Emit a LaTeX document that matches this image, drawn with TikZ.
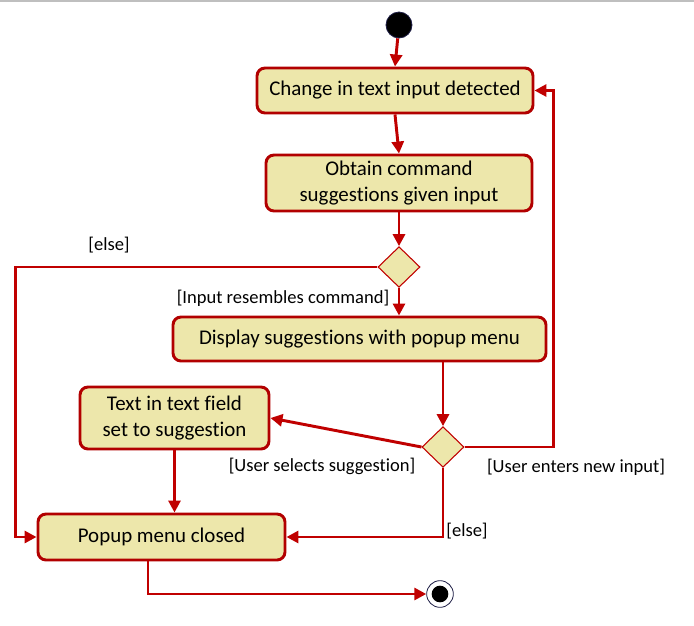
\documentclass[tikz,border=0pt]{standalone}
\usepackage{fontspec}
\setmainfont{Carlito}[Ligatures={NoCommon}]
\usetikzlibrary{shapes.geometric,arrows.meta,calc}
\definecolor{boxfill}{RGB}{237,231,171}
\definecolor{boxline}{RGB}{178,0,0}
\definecolor{conn}{RGB}{192,0,0}
\definecolor{navy}{RGB}{30,30,70}
\begin{document}
\begin{tikzpicture}[x=0.75pt,y=-0.75pt,
  actbox/.style={draw=boxline,line width=2.2pt,fill=boxfill,rounded corners=6pt,
    align=center,inner sep=0pt,font=\fontsize{15.7pt}{18.8pt}\selectfont},
  decide/.style={diamond,draw=conn,line width=0.8pt,fill=boxfill,inner sep=0pt,
    minimum width=31.5pt,minimum height=30.5pt},
  arr/.style={draw=conn,line width=2.2pt,-{Triangle[length=9pt,width=9pt]}},
  guard/.style={font=\fontsize{13.9pt}{16pt}\selectfont,inner sep=0pt}]
\useasboundingbox (0,0) rectangle (694,626);
\fill[white] (0,0) rectangle (694,626);
\draw[black!25,line width=1.5pt] (0,1) -- (694,1);

\node[circle,fill=black,draw=navy,line width=0.6pt,minimum size=19.5pt,inner sep=0pt] (start) at (399,25) {};
\node[actbox,minimum width=207pt,minimum height=33.75pt] (box1) at (395,90.5) {Change in text input detected};
\node[actbox,minimum width=199.5pt,minimum height=42pt] (box2) at (399,183) {Obtain command\\suggestions given input};
\node[decide] (d1) at (399,267) {};
\node[actbox,minimum width=279.75pt,minimum height=33pt] (box3) at (359.5,339) {Display suggestions with popup menu};
\node[decide] (d2) at (443,447) {};
\node[actbox,minimum width=141.75pt,minimum height=46.5pt] (box4) at (174.5,418) {Text in text field\\set to suggestion};
\node[actbox,minimum width=185.25pt,minimum height=34.5pt] (box5) at (161.5,537) {Popup menu closed};
\node[circle,draw=navy,fill=white,line width=0.6pt,minimum size=20pt,inner sep=0pt] (end) at (440,594) {};
\node[circle,fill=black,minimum size=12.5pt,inner sep=0pt] (endin) at (end) {};

\node[guard] (g1) at (109,245) {[else]};
\node[guard] (g2) at (283,298) {[Input resembles command]};
\node[guard] (g3) at (322,466) {[User selects suggestion]};
\node[guard] (g4) at (576,467) {[User enters new input]};
\node[guard] (g5) at (467,531) {[else]};

\draw[arr] (start) -- (box1.north);
\draw[arr] (box1.south) -- (box2.north);
\draw[arr] (box2.south) -- (d1.north);
\draw[arr] (d1.west) -- ++(-362,0) |- (box5.west);
\draw[arr] (d1.south) -- (d1.south |- box3.north);
\draw[arr] (d2.north |- box3.south) -- (d2.north);
\draw[arr] (d2.west) -- (box4.east);
\draw[arr] (d2.east) -- ++(89,0) |- (box1.east);
\draw[arr] (d2.south) |- (box5.east);
\draw[arr] (box4.south) -- (box4.south |- box5.north);
\draw[arr] ($(box5.south)+(-13.5,0)$) |- (end.west);
\end{tikzpicture}
\end{document}
